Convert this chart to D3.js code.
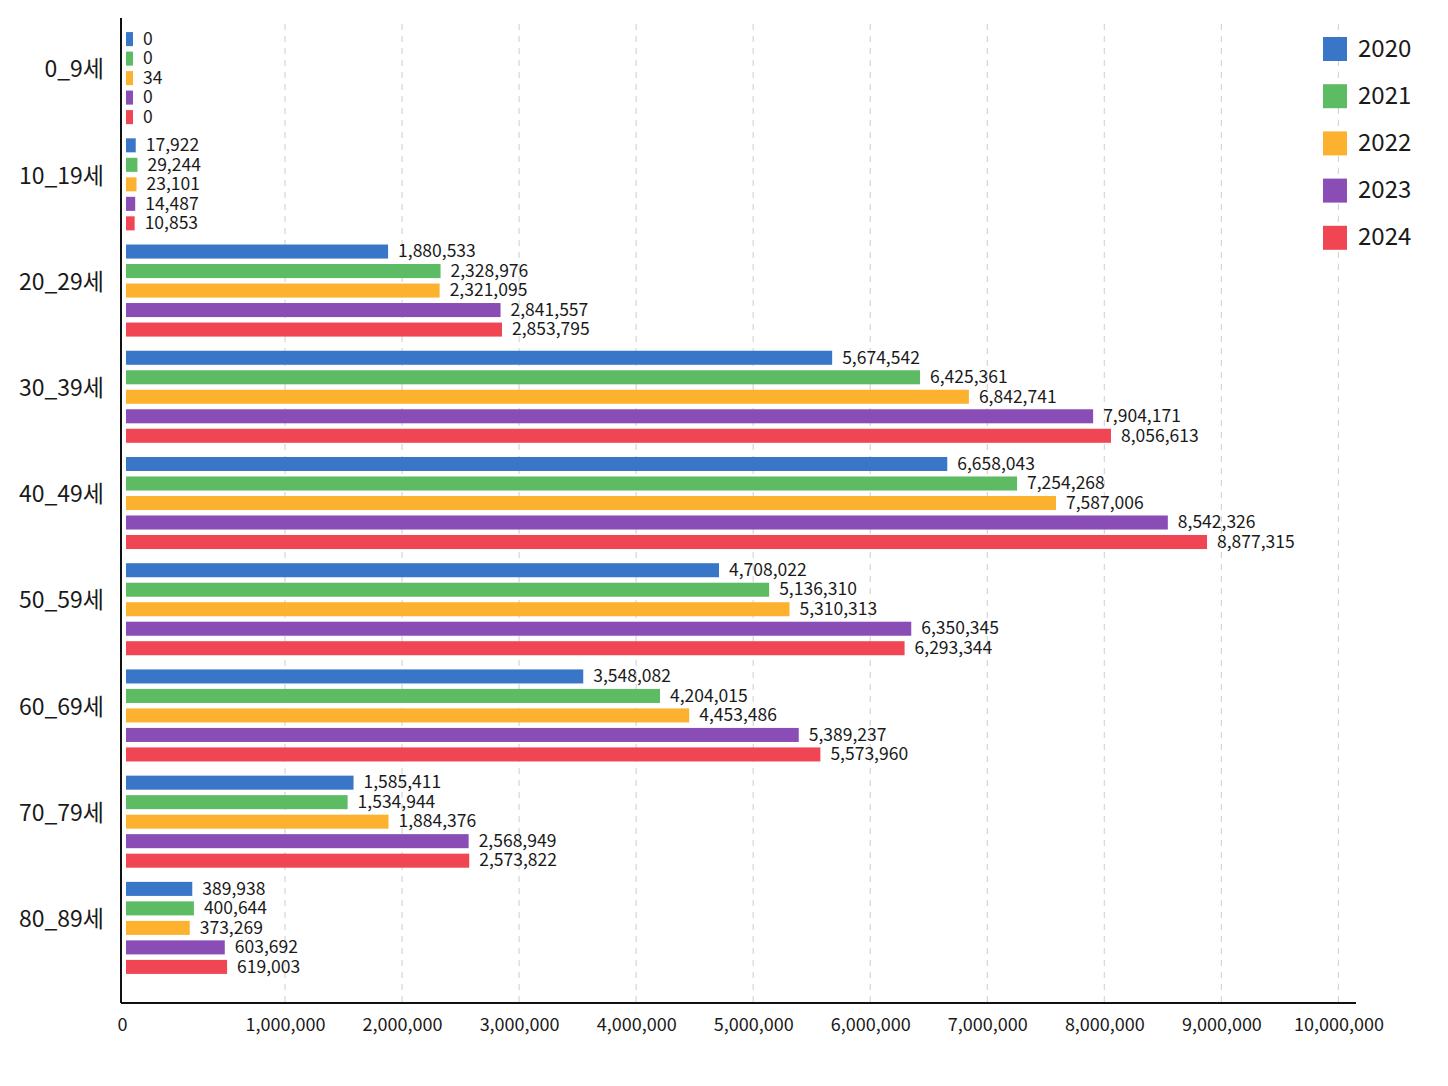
<!DOCTYPE html>
<html>
<head>
<meta charset="utf-8">
<script src="https://cdn.jsdelivr.net/npm/d3@7"></script>
<style>
  body { margin: 0; background: #fff; }
  text { font-family: "Noto Sans CJK KR", "Noto Sans", sans-serif; fill: #1a1a1a; }
</style>
</head>
<body>
<div id="chart"></div>
<script>
// age groups and years
const ages = ["0_9세", "10_19세", "20_29세", "30_39세", "40_49세", "50_59세", "60_69세", "70_79세", "80_89세"];
const years = ["2020", "2021", "2022", "2023", "2024"];

const v2020 = [0, 17922, 1880533, 5674542, 6658043, 4708022, 3548082, 1585411, 389938];
const v2021 = [0, 29244, 2328976, 6425361, 7254268, 5136310, 4204015, 1534944, 400644];
const v2022 = [34, 23101, 2321095, 6842741, 7587006, 5310313, 4453486, 1884376, 373269];
const v2023 = [0, 14487, 2841557, 7904171, 8542326, 6350345, 5389237, 2568949, 603692];
const v2024 = [0, 10853, 2853795, 8056613, 8877315, 6293344, 5573960, 2573822, 619003];

const colors = ["#3a76c8", "#5cbb63", "#fcb22f", "#8a4db6", "#f04553"];

const series = [v2020, v2021, v2022, v2023, v2024];

const width = 1448, height = 1086;
const plot = {left: 121, top: 18, bottom: 1003, right: 1356};

const svg = d3.select("#chart").append("svg")
    .attr("width", width)
    .attr("height", height);

// x scale (the axis in the picture has a wider first step)
const x = d3.scaleLinear()
    .domain([0, 1000000, 10150000])
    .range([133, 285, plot.right]);

const y0 = d3.scaleBand()
    .domain(ages)
    .range([25, 981])
    .paddingInner(0.082)
    .paddingOuter(0.041);

const y1 = d3.scaleBand()
    .domain(years)
    .range([0, y0.bandwidth()])
    .paddingInner(0.28)
    .paddingOuter(0.14);

// grid
const ticks = x.ticks(10);
svg.selectAll(".grid")
    .data(ticks.filter(d => d > 0))
    .enter()
    .append("line")
    .attr("class", "grid")
    .attr("x1", d => x(d))
    .attr("x2", d => x(d))
    .attr("y1", plot.top + 6)
    .attr("y2", plot.bottom)
    .attr("stroke", "#d6d6d6")
    .attr("stroke-width", 1.2)
    .attr("stroke-dasharray", "6,6");

// bars
const rows = [];
ages.forEach((a, i) => {
    years.forEach((yr, j) => {
        rows.push({age: a, year: yr, value: series[j][i], color: colors[j]});
    });
});

const barStart = 126;

svg.selectAll(".bar")
    .data(rows)
    .enter()
    .append("rect")
    .attr("class", "bar")
    .attr("x", barStart)
    .attr("y", d => y0(d.age) + y1(d.year))
    .attr("width", d => x(d.value) - barStart)
    .attr("height", y1.bandwidth())
    .attr("fill", d => d.color);

svg.selectAll(".val")
    .data(rows)
    .enter()
    .append("text")
    .attr("class", "val")
    .attr("x", d => x(d.value) + 10)
    .attr("y", d => y0(d.age) + y1(d.year) + y1.bandwidth() / 2 + 1)
    .attr("dominant-baseline", "middle")
    .style("font-size", "17.5px")
    .text(d => d3.format(",")(d.value));

// category labels
svg.selectAll(".cat")
    .data(ages)
    .enter()
    .append("text")
    .attr("class", "cat")
    .attr("x", 104)
    .attr("y", d => y0(d) + y0.bandwidth() / 2 - 7)
    .attr("text-anchor", "end")
    .attr("dominant-baseline", "middle")
    .style("font-size", "23px")
    .text(d => d);

// x axis
const xAxis = svg.append("g")
    .attr("transform", "translate(0," + plot.bottom + ")")
    .call(d3.axisBottom(x).tickValues(ticks).tickSize(0).tickPadding(15).tickFormat(d3.format(",")));
xAxis.select(".domain").remove();
xAxis.selectAll("text")
    .style("font-size", "18px")
    .style("font-family", "'Noto Sans CJK KR', sans-serif")
    .attr("fill", "#1a1a1a");
xAxis.selectAll(".tick")
    .filter(d => d === 0)
    .select("text")
    .attr("x", 122 - x(0));

svg.append("line")
    .attr("x1", plot.left).attr("x2", plot.right)
    .attr("y1", plot.bottom).attr("y2", plot.bottom)
    .attr("stroke", "#111").attr("stroke-width", 2);

svg.append("line")
    .attr("x1", plot.left).attr("x2", plot.left)
    .attr("y1", plot.top).attr("y2", plot.bottom)
    .attr("stroke", "#111").attr("stroke-width", 2);

// legend
const legend = svg.selectAll(".legend")
    .data(years)
    .enter()
    .append("g")
    .attr("class", "legend")
    .attr("transform", (d, i) => "translate(1323," + (37 + i * 47.2) + ")");

legend.append("rect")
    .attr("width", 24)
    .attr("height", 24)
    .attr("fill", (d, i) => colors[i]);

legend.append("text")
    .attr("x", 35)
    .attr("y", 13)
    .attr("dominant-baseline", "middle")
    .style("font-size", "24px")
    .text(d => d);
</script>
</body>
</html>
